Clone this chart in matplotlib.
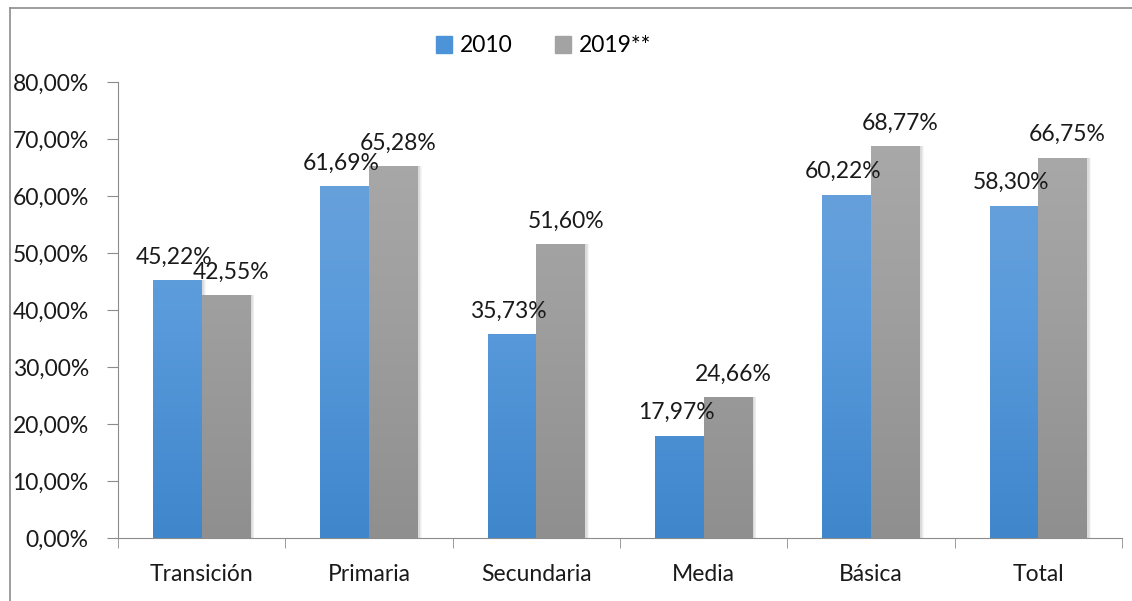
import matplotlib
matplotlib.use("Agg")
import matplotlib.pyplot as plt
import numpy as np
from matplotlib.colors import LinearSegmentedColormap
from matplotlib.patches import Rectangle
from matplotlib.lines import Line2D
from matplotlib.ticker import FuncFormatter, FixedLocator

categories = ["Transición", "Primaria", "Secundaria", "Media", "Básica", "Total"]
values_2010 = [45.22, 61.69, 35.73, 17.97, 60.22, 58.30]
values_2019 = [42.55, 65.28, 51.60, 24.66, 68.77, 66.75]
series_names = ["2010", "2019**"]

plt.rcParams["font.family"] = ["Lato", "DejaVu Sans"]
FS = 16.5

W, H = 1132, 601
fig = plt.figure(figsize=(W / 100, H / 100), dpi=100)
fig.patch.set_facecolor("white")

# chart frame (only left and top edges are visible in the crop)
fig.add_artist(Line2D([10 / W, 10 / W], [0, 1 - 8 / H], transform=fig.transFigure, color="#8c8c8c", lw=1.2))
fig.add_artist(Line2D([10 / W, 1.05], [1 - 8 / H, 1 - 8 / H], transform=fig.transFigure, color="#8c8c8c", lw=1.2))

ax = fig.add_axes([118 / W, (601 - 538) / H, (1122 - 118) / W, (538 - 82) / H])
x = np.arange(len(categories))
bw = 0.29

blue_cmap = LinearSegmentedColormap.from_list("b", ["#3f86cb", "#5a9bdc", "#71a5db"])
gray_cmap = LinearSegmentedColormap.from_list("g", ["#8f8f8f", "#9f9f9f", "#acacac"])


def gradient_bars(xs, vals, cmap, label):
    # soft shadow to the right
    for k in range(4):
        ax.bar(xs + 0.012 + k * 0.004, vals, bw, color="black", alpha=0.035, zorder=1)
    bars = ax.bar(xs, vals, bw, color=cmap(0.5), label=label, zorder=2)
    grad = np.linspace(0, 1, 256).reshape(-1, 1)
    for b in bars:
        x0 = b.get_x()
        im = ax.imshow(grad, extent=[x0, x0 + b.get_width(), 0, 80], origin="lower",
                       cmap=cmap, aspect="auto", zorder=3)
        im.set_clip_path(b)
    return bars


gradient_bars(x - bw / 2, values_2010, blue_cmap, series_names[0])
gradient_bars(x + bw / 2, values_2019, gray_cmap, series_names[1])

fmt = lambda v: f"{v:.2f}%".replace(".", ",")
for xs, vals, dx in [(x - bw / 2, values_2010, -0.02), (x + bw / 2, values_2019, 0.03)]:
    for xi, v in zip(xs, vals):
        ax.annotate(fmt(v), (xi + dx, v), xytext=(0, 9), textcoords="offset points",
                    ha="center", va="bottom", fontsize=FS, color="#1a1a1a", zorder=5)

ax.set_xlim(-0.5, len(categories) - 0.5)
ax.set_ylim(0, 80)
ax.set_yticks(np.arange(0, 81, 10))
ax.yaxis.set_major_formatter(FuncFormatter(lambda v, p: f"{v:.2f}%".replace(".", ",")))
ax.set_xticks(x)
ax.set_xticklabels(categories)
ax.xaxis.set_minor_locator(FixedLocator(np.arange(-0.5, len(categories), 1)))
ax.tick_params(axis="x", which="major", length=0, pad=19, labelsize=FS, colors="#1a1a1a")
ax.tick_params(axis="x", which="minor", length=7, color="#8c8c8c", direction="out")
ax.tick_params(axis="y", length=8, color="#8c8c8c", pad=13, labelsize=FS, labelcolor="#1a1a1a")
for s in ["top", "right"]:
    ax.spines[s].set_visible(False)
for s in ["left", "bottom"]:
    ax.spines[s].set_color("#8c8c8c")
ax.set_facecolor("none")

handles = [Rectangle((0, 0), 1, 1, color="#4d93d8"), Rectangle((0, 0), 1, 1, color="#a3a3a3")]
fig.legend(handles, series_names, loc="center", bbox_to_anchor=(0.480, 1 - 46 / H), ncol=2,
           frameon=False, fontsize=FS, handlelength=0.7, handleheight=0.7,
           handletextpad=0.35, columnspacing=1.85)

fig.savefig("out.png", dpi=100)
